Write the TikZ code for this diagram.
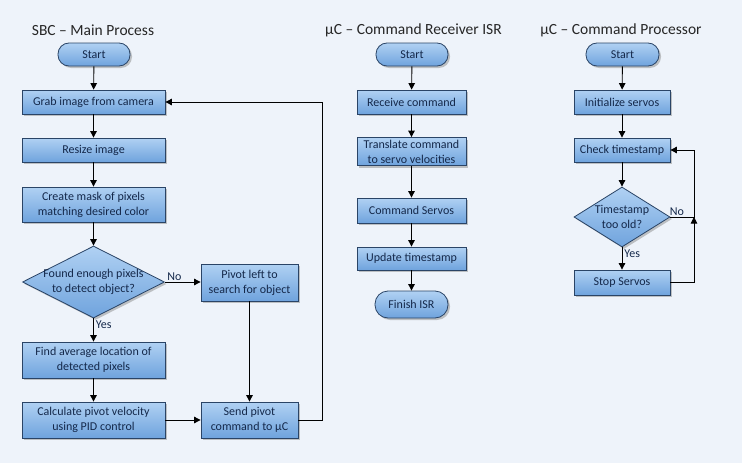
\documentclass[tikz,border=0pt]{standalone}
\usepackage{fontspec}
\setmainfont{Carlito}
\usetikzlibrary{shapes.geometric,shadows,arrows.meta}
\definecolor{bg}{HTML}{EEF3FA}
\definecolor{boxtop}{HTML}{B0D1F3}
\definecolor{boxbot}{HTML}{6FA3DD}
\definecolor{boxline}{HTML}{2A4466}
\definecolor{txt}{HTML}{14284A}
\tikzset{
  base/.style={draw=boxline, line width=0.8pt, top color=boxtop, bottom color=boxbot,
    text=txt, font=\fontsize{12}{15}\selectfont, align=center, inner sep=0pt,
    drop shadow={shadow xshift=2pt, shadow yshift=-2pt, fill=black!50, opacity=0.45}},
  proc/.style={base, rectangle, minimum height=24pt},
  term/.style={base, rectangle, rounded corners=11pt, minimum height=23pt},
  dec/.style={base, diamond, aspect=2},
  arr/.style={draw=black, line width=0.9pt, -{Triangle[length=6.5pt,width=6.5pt]}},
  ln/.style={draw=black, line width=0.9pt},
  lab/.style={font=\fontsize{12}{15}\selectfont, text=txt, inner sep=1pt},
  ttl/.style={font=\fontsize{15.5}{18}\selectfont, text=black!85, inner sep=0pt}
}
\begin{document}
\begin{tikzpicture}[x=1pt,y=-1pt]
\path[fill=bg] (0,0) rectangle (742,463);
% titles
\node[ttl] (t1) at (93,30) {SBC – Main Process};
\node[ttl] (t2) at (413.5,30) {µC – Command Receiver ISR};
\node[ttl] (t3) at (621,30) {µC – Command Processor};
% left column
\node[term, minimum width=72pt] (s1) at (94,54.5) {Start};
\node[proc, minimum width=143pt] (grab) at (93.5,102) {Grab image from camera};
\node[proc, minimum width=143pt] (resize) at (93.5,150) {Resize image};
\node[proc, minimum width=143pt, minimum height=35pt] (mask) at (93.5,204.5) {Create mask of pixels\\matching desired color};
\node[dec, minimum width=142pt, minimum height=72pt,
  label={[lab, align=center]center:Found enough pixels\\to detect object?}] (d1) at (93.5,282) {};
\node[proc, minimum width=143pt, minimum height=36pt] (find) at (93.5,360) {Find average location of\\detected pixels};
\node[proc, minimum width=143pt, minimum height=36pt] (calc) at (93.5,420) {Calculate pivot velocity\\using PID control};
\node[proc, minimum width=97pt, minimum height=37pt] (pivot) at (249.5,282.5) {Pivot left to\\search for object};
\node[proc, minimum width=97pt, minimum height=36pt] (send) at (249.5,420) {Send pivot\\command to µC};
% middle column
\node[term, minimum width=72pt] (s2) at (412,54.5) {Start};
\node[proc, minimum width=109pt] (recv) at (411.5,102) {Receive command};
\node[proc, minimum width=109pt, minimum height=28pt] (trans) at (411.5,151.5) {Translate command\\to servo velocities};
\node[proc, minimum width=109pt, minimum height=25pt] (cmd) at (411.5,210.5) {Command Servos};
\node[proc, minimum width=109pt, minimum height=23pt] (upd) at (411.5,258.5) {Update timestamp};
\node[term, minimum width=73pt, minimum height=27pt, rounded corners=13pt] (fin) at (411.5,304.5) {Finish ISR};
% right column
\node[term, minimum width=73pt] (s3) at (622.5,54.5) {Start};
\node[proc, minimum width=96pt] (init) at (622,102) {Initialize servos};
\node[proc, minimum width=96pt] (check) at (622,150) {Check timestamp};
\node[dec, minimum width=96pt, minimum height=60pt,
  label={[lab, align=center]center:Timestamp\\too old?}] (d2) at (622,217) {};
\node[proc, minimum width=96pt, minimum height=25pt] (stop) at (622,282.5) {Stop Servos};
% connectors left
\draw[arr] (s1) -- (grab);
\draw[arr] (grab) -- (resize);
\draw[arr] (resize) -- (mask);
\draw[arr] (mask) -- (d1);
\draw[arr] (d1.south) -- node[lab, anchor=north west, pos=0.05, xshift=1pt] {Yes} (find);
\draw[arr] (d1.east) -- node[lab, anchor=south west, pos=0.0, xshift=1pt] {No} (pivot.west |- d1.east);
\draw[arr] (pivot) -- (send);
\draw[arr] (find) -- (calc);
\draw[arr] (calc) -- (send);
\coordinate (lp) at (322,420);
\draw[arr] (send.east) -- (lp) |- (grab.east);
% connectors middle
\draw[arr] (s2) -- (recv);
\draw[arr] (recv) -- (trans);
\draw[arr] (trans) -- (cmd);
\draw[arr] (cmd) -- (upd);
\draw[arr] (upd) -- (fin);
% connectors right
\draw[arr] (s3) -- (init);
\draw[arr] (init) -- (check);
\draw[arr] (check) -- (d2);
\draw[arr] (d2.south) -- node[lab, anchor=north west, pos=0.05, xshift=1pt] {Yes} (stop);
\coordinate (j) at (694,217);
\draw[arr] (d2.east) -- node[lab, anchor=south west, pos=0.0, xshift=-2pt] {No} (j) |- (check.east);
\draw[arr] (stop.east) -- (j |- stop.east) -- (j);
\end{tikzpicture}
\end{document}
